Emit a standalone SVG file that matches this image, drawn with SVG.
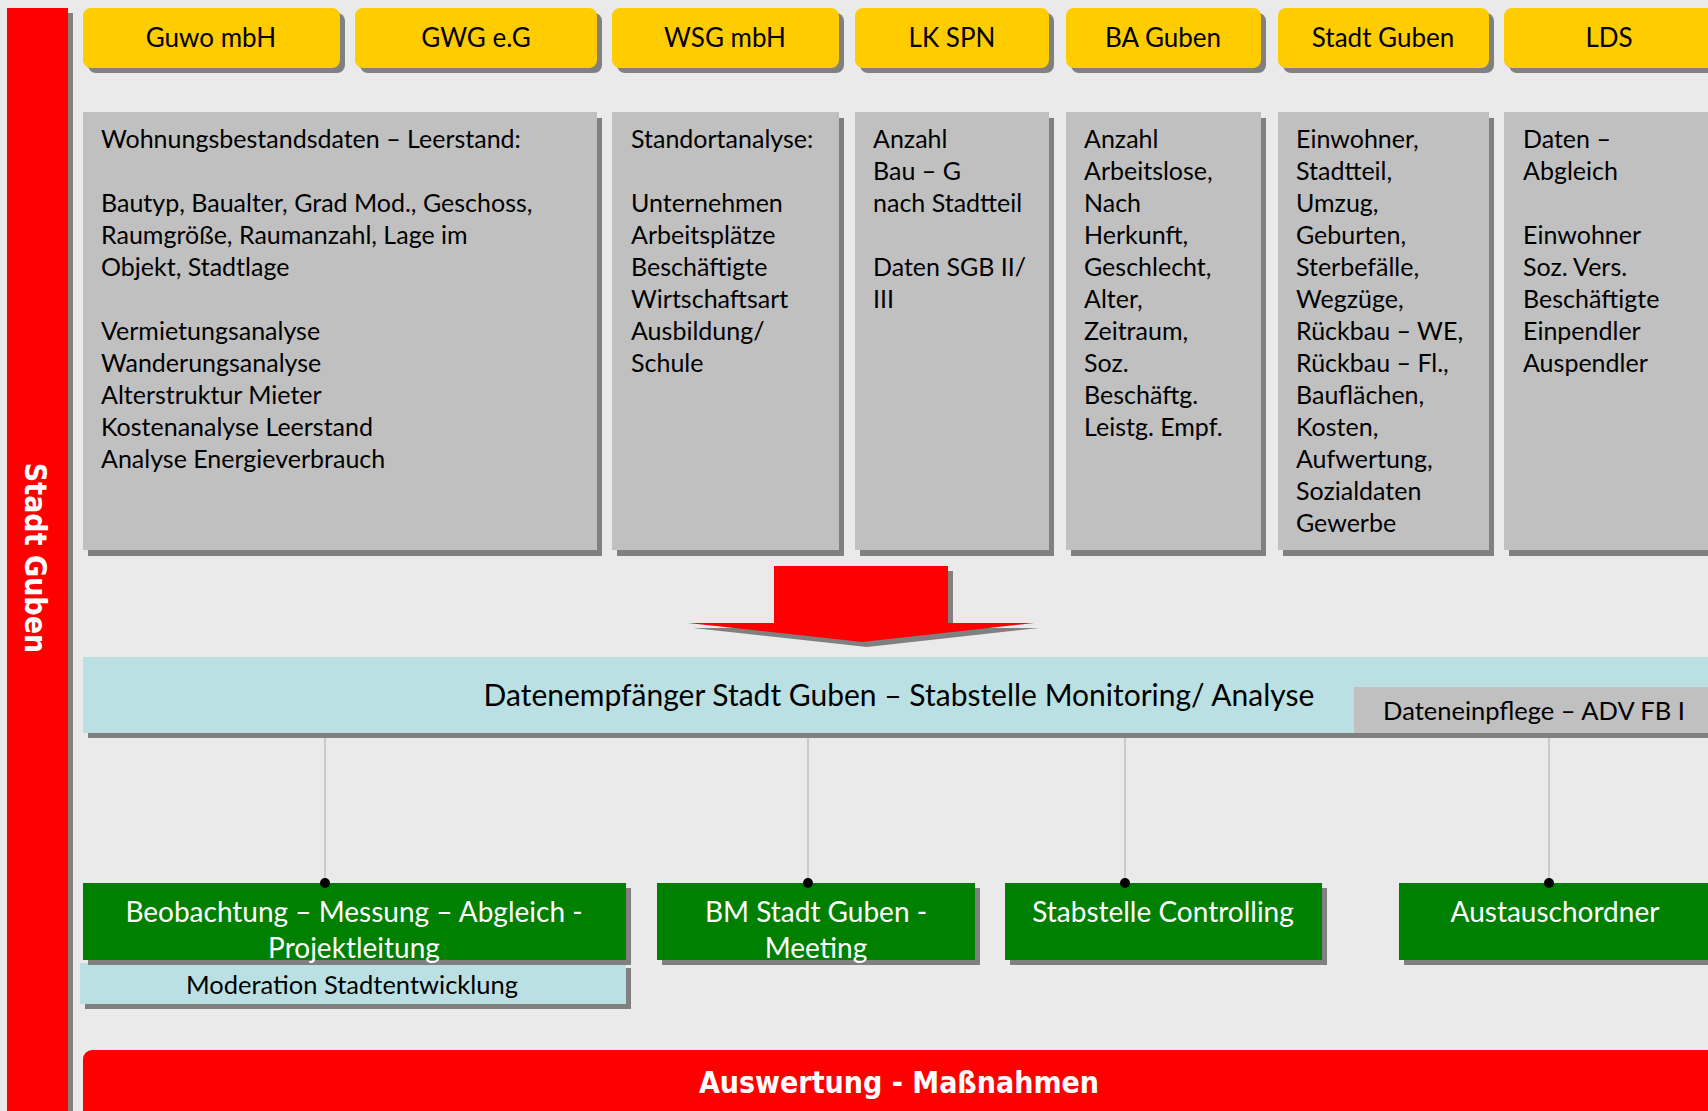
<svg xmlns="http://www.w3.org/2000/svg" width="1708" height="1111" viewBox="0 0 1708 1111">
<style>
.sh{fill:#808080}
.yel{fill:#FFCC00}
.gry{fill:#C0C0C0}
.blu{fill:#BAE0E3}
.grn{fill:#008000}
.red{fill:#FF0000}
text{font-family:Lato,"Open Sans",sans-serif;fill:#000}
.lab{font-size:26px;text-anchor:middle}
.small{font-size:25.5px;text-anchor:middle}
.body{font-size:25px}
.big{font-size:30px;text-anchor:middle}
.wt{font-size:28px;text-anchor:middle;fill:#fff}
.heavy{font-family:"DejaVu Sans Condensed","DejaVu Sans","Liberation Sans",sans-serif;font-weight:bold;fill:#fff;text-anchor:middle}
.conn{stroke:#B4B4B4;stroke-width:1.2;fill:none}
</style>
<rect width="1708" height="1111" fill="#EAEAEA"/>

<g id="left-bar">
<rect class="sh" x="12" y="13" width="61" height="1098"/>
<rect class="red" x="7" y="8" width="61" height="1103"/>
<text class="heavy" font-size="30" transform="translate(25,558) rotate(90)">Stadt Guben</text>
</g>

<g id="src-guwo">
<rect class="sh" x="88" y="13" width="257" height="60" rx="8"/>
<rect class="yel" x="83" y="8" width="257" height="60" rx="8"/>
<text class="lab" x="211" y="47">Guwo mbH</text>
</g>
<g id="src-gwg">
<rect class="sh" x="360" y="13" width="242" height="60" rx="8"/>
<rect class="yel" x="355" y="8" width="242" height="60" rx="8"/>
<text class="lab" x="476" y="47">GWG e.G</text>
</g>
<g id="src-wsg">
<rect class="sh" x="617" y="13" width="227" height="60" rx="8"/>
<rect class="yel" x="612" y="8" width="227" height="60" rx="8"/>
<text class="lab" x="725" y="47">WSG mbH</text>
</g>
<g id="src-lk">
<rect class="sh" x="860" y="13" width="194" height="60" rx="8"/>
<rect class="yel" x="855" y="8" width="194" height="60" rx="8"/>
<text class="lab" x="952" y="47">LK SPN</text>
</g>
<g id="src-ba">
<rect class="sh" x="1071" y="13" width="195" height="60" rx="8"/>
<rect class="yel" x="1066" y="8" width="195" height="60" rx="8"/>
<text class="lab" x="1163" y="47">BA Guben</text>
</g>
<g id="src-stadt">
<rect class="sh" x="1283" y="13" width="211" height="60" rx="8"/>
<rect class="yel" x="1278" y="8" width="211" height="60" rx="8"/>
<text class="lab" x="1383" y="47">Stadt Guben</text>
</g>
<g id="src-lds">
<rect class="sh" x="1509" y="13" width="220" height="60" rx="8"/>
<rect class="yel" x="1504" y="8" width="220" height="60" rx="8"/>
<text class="lab" x="1609" y="47">LDS</text>
</g>

<g id="data-guwo">
<rect class="sh" x="88" y="118" width="514" height="438"/>
<rect class="gry" x="83" y="112" width="514" height="438"/>
<text class="body" x="101" y="148">Wohnungsbestandsdaten – Leerstand:</text>
<text class="body" x="101" y="212">Bautyp, Baualter, Grad Mod., Geschoss,</text>
<text class="body" x="101" y="244">Raumgröße, Raumanzahl, Lage im</text>
<text class="body" x="101" y="276">Objekt, Stadtlage</text>
<text class="body" x="101" y="340">Vermietungsanalyse</text>
<text class="body" x="101" y="372">Wanderungsanalyse</text>
<text class="body" x="101" y="404">Alterstruktur Mieter</text>
<text class="body" x="101" y="436">Kostenanalyse Leerstand</text>
<text class="body" x="101" y="468">Analyse Energieverbrauch</text>
</g>
<g id="data-wsg">
<rect class="sh" x="617" y="118" width="227" height="438"/>
<rect class="gry" x="612" y="112" width="227" height="438"/>
<text class="body" x="631" y="148">Standortanalyse:</text>
<text class="body" x="631" y="212">Unternehmen</text>
<text class="body" x="631" y="244">Arbeitsplätze</text>
<text class="body" x="631" y="276">Beschäftigte</text>
<text class="body" x="631" y="308">Wirtschaftsart</text>
<text class="body" x="631" y="340">Ausbildung/</text>
<text class="body" x="631" y="372">Schule</text>
</g>
<g id="data-lk">
<rect class="sh" x="860" y="118" width="194" height="438"/>
<rect class="gry" x="855" y="112" width="194" height="438"/>
<text class="body" x="873" y="148">Anzahl</text>
<text class="body" x="873" y="180">Bau – G</text>
<text class="body" x="873" y="212">nach Stadtteil</text>
<text class="body" x="873" y="276">Daten SGB II/</text>
<text class="body" x="873" y="308">III</text>
</g>
<g id="data-ba">
<rect class="sh" x="1071" y="118" width="195" height="438"/>
<rect class="gry" x="1066" y="112" width="195" height="438"/>
<text class="body" x="1084" y="148">Anzahl</text>
<text class="body" x="1084" y="180">Arbeitslose,</text>
<text class="body" x="1084" y="212">Nach</text>
<text class="body" x="1084" y="244">Herkunft,</text>
<text class="body" x="1084" y="276">Geschlecht,</text>
<text class="body" x="1084" y="308">Alter,</text>
<text class="body" x="1084" y="340">Zeitraum,</text>
<text class="body" x="1084" y="372">Soz.</text>
<text class="body" x="1084" y="404">Beschäftg.</text>
<text class="body" x="1084" y="436">Leistg. Empf.</text>
</g>
<g id="data-stadt">
<rect class="sh" x="1283" y="118" width="211" height="438"/>
<rect class="gry" x="1278" y="112" width="211" height="438"/>
<text class="body" x="1296" y="148">Einwohner,</text>
<text class="body" x="1296" y="180">Stadtteil,</text>
<text class="body" x="1296" y="212">Umzug,</text>
<text class="body" x="1296" y="244">Geburten,</text>
<text class="body" x="1296" y="276">Sterbefälle,</text>
<text class="body" x="1296" y="308">Wegzüge,</text>
<text class="body" x="1296" y="340">Rückbau – WE,</text>
<text class="body" x="1296" y="372">Rückbau – Fl.,</text>
<text class="body" x="1296" y="404">Bauflächen,</text>
<text class="body" x="1296" y="436">Kosten,</text>
<text class="body" x="1296" y="468">Aufwertung,</text>
<text class="body" x="1296" y="500">Sozialdaten</text>
<text class="body" x="1296" y="532">Gewerbe</text>
</g>
<g id="data-lds">
<rect class="sh" x="1509" y="118" width="220" height="438"/>
<rect class="gry" x="1504" y="112" width="220" height="438"/>
<text class="body" x="1523" y="148">Daten –</text>
<text class="body" x="1523" y="180">Abgleich</text>
<text class="body" x="1523" y="244">Einwohner</text>
<text class="body" x="1523" y="276">Soz. Vers.</text>
<text class="body" x="1523" y="308">Beschäftigte</text>
<text class="body" x="1523" y="340">Einpendler</text>
<text class="body" x="1523" y="372">Auspendler</text>
</g>

<g id="big-arrow">
<polygon class="sh" points="779,571 953,571 953,628 1039,628 867,647 693,628 779,628"/>
<polygon class="red" points="774,566 948,566 948,623 1034,623 862,642 688,623 774,623"/>
</g>

<g id="receiver">
<rect class="sh" x="88" y="662" width="1640" height="76"/>
<rect class="blu" x="83" y="657" width="1640" height="76"/>
<text class="big" x="899" y="706">Datenempfänger Stadt Guben – Stabstelle Monitoring/ Analyse</text>
</g>
<g id="dateneinpflege">
<rect class="gry" x="1354" y="687" width="354" height="46"/>
<text class="small" x="1534" y="720">Dateneinpflege – ADV FB I</text>
</g>

<g id="moderation">
<rect class="sh" x="85" y="968" width="546" height="41"/>
<rect class="blu" x="80" y="963" width="546" height="41"/>
<text class="small" x="352" y="994">Moderation Stadtentwicklung</text>
</g>
<g id="beobachtung">
<rect class="sh" x="88" y="888" width="543" height="77"/>
<rect class="grn" x="83" y="883" width="543" height="77"/>
<text class="wt" x="354" y="922">Beobachtung – Messung – Abgleich -</text>
<text class="wt" x="354" y="958">Projektleitung</text>
</g>
<g id="bm">
<rect class="sh" x="662" y="888" width="318" height="77"/>
<rect class="grn" x="657" y="883" width="318" height="77"/>
<text class="wt" x="816" y="922">BM Stadt Guben -</text>
<text class="wt" x="816" y="958">Meeting</text>
</g>
<g id="controlling">
<rect class="sh" x="1010" y="888" width="317" height="77"/>
<rect class="grn" x="1005" y="883" width="317" height="77"/>
<text class="wt" x="1163" y="922">Stabstelle Controlling</text>
</g>
<g id="austausch">
<rect class="sh" x="1404" y="888" width="320" height="77"/>
<rect class="grn" x="1399" y="883" width="320" height="77"/>
<text class="wt" x="1555" y="922">Austauschordner</text>
</g>

<g id="auswertung">
<rect class="red" x="83" y="1050" width="1650" height="80" rx="9"/>
<text class="heavy" font-size="30" x="899" y="1093">Auswertung - Maßnahmen</text>
</g>

<g id="connectors">
<line class="conn" x1="325" y1="738" x2="325" y2="883"/>
<line class="conn" x1="808" y1="738" x2="808" y2="883"/>
<line class="conn" x1="1125" y1="738" x2="1125" y2="883"/>
<line class="conn" x1="1549" y1="738" x2="1549" y2="883"/>
<circle cx="325" cy="883" r="5" fill="#000"/>
<circle cx="808" cy="883" r="5" fill="#000"/>
<circle cx="1125" cy="883" r="5" fill="#000"/>
<circle cx="1549" cy="883" r="5" fill="#000"/>
</g>
</svg>
